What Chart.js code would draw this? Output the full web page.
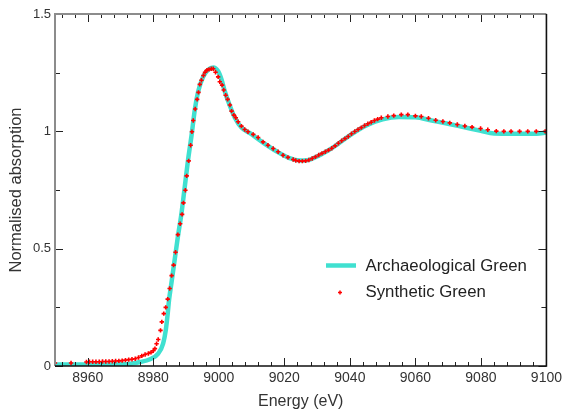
<!DOCTYPE html>
<html><head><meta charset="utf-8">
<script src="https://cdn.jsdelivr.net/npm/chart.js@4.4.1/dist/chart.umd.min.js"></script>
<style>html,body{margin:0;padding:0;background:#fff;}canvas{display:block;}</style>
</head><body>
<canvas id="c" width="566" height="416"></canvas>
<script>
const seriesNames = ['Archaeological Green', 'Synthetic Green'];
const xTickLabels = [8960, 8980, 9000, 9020, 9040, 9060, 9080, 9100];
const yTickLabels = [0, 0.5, 1, 1.5];

const archEnergy = [8950, 8955, 8960, 8965, 8970, 8973, 8976, 8979, 8981.5, 8983, 8983.8, 8984.4, 8984.8, 8985.5, 8986.5, 8987.5, 8988.6, 8989.6, 8990.6, 8991.7, 8992.7, 8993.7, 8995.2, 8996.7, 8998.3, 8999.8, 9000.8, 9001.8, 9003.4, 9004.9, 9006.9, 9009.5, 9013.5, 9017.6, 9021.6, 9024.7, 9027, 9030, 9035, 9040, 9045, 9050, 9055, 9060, 9065, 9070, 9075, 9080, 9084, 9090, 9097, 9100];
const archAbs = [0.006, 0.006, 0.006, 0.006, 0.007, 0.010, 0.017, 0.029, 0.053, 0.095, 0.152, 0.223, 0.28, 0.35, 0.45, 0.55, 0.65, 0.763, 0.877, 0.985, 1.095, 1.17, 1.232, 1.262, 1.272, 1.256, 1.222, 1.172, 1.108, 1.058, 1.016, 0.992, 0.952, 0.915, 0.886, 0.876, 0.877, 0.893, 0.933, 0.983, 1.025, 1.051, 1.061, 1.060, 1.046, 1.032, 1.017, 1.002, 0.991, 0.990, 0.990, 0.995];

const synthEnergy = [8950.0, 8954.9, 8959.6, 8960.5, 8961.5, 8962.5, 8963.5, 8964.5, 8965.5, 8966.5, 8967.5, 8968.5, 8969.5, 8970.5, 8971.5, 8972.5, 8973.5, 8974.5, 8975.5, 8976.5, 8977.5, 8978.5, 8979.3, 8980.0, 8980.5, 8981.0, 8981.5, 8982.2, 8982.6, 8983.2, 8983.8, 8984.4, 8985.0, 8985.6, 8986.2, 8986.8, 8987.5, 8988.2, 8988.8, 8989.2, 8989.8, 8990.2, 8990.8, 8991.4, 8991.8, 8992.2, 8992.8, 8993.4, 8993.8, 8994.2, 8994.7, 8995.3, 8995.8, 8996.4, 8997.0, 8997.7, 8998.3, 8999.0, 8999.8, 9000.3, 9001.0, 9001.5, 9002.1, 9002.7, 9003.4, 9003.9, 9004.6, 9005.2, 9005.9, 9006.9, 9007.9, 9008.9, 9010.5, 9012.0, 9013.5, 9015.0, 9016.6, 9018.1, 9019.6, 9021.1, 9022.7, 9023.5, 9024.5, 9025.5, 9026.5, 9027.5, 9028.5, 9029.5, 9030.5, 9031.5, 9032.5, 9033.5, 9034.5, 9035.5, 9036.5, 9037.5, 9038.5, 9039.5, 9040.5, 9041.5, 9042.5, 9043.5, 9044.5, 9045.5, 9046.5, 9047.5, 9048.5, 9049.6, 9051.6, 9053.4, 9055.7, 9057.7, 9060.0, 9061.8, 9064.0, 9066.2, 9068.4, 9070.5, 9072.8, 9075.1, 9077.3, 9079.9, 9082.1, 9084.7, 9087.0, 9089.2, 9091.8, 9094.3, 9096.9, 9099.6];
const synthAbs = [0.013, 0.013, 0.017, 0.018, 0.018, 0.018, 0.018, 0.019, 0.019, 0.019, 0.020, 0.021, 0.022, 0.023, 0.025, 0.027, 0.029, 0.031, 0.036, 0.043, 0.049, 0.053, 0.058, 0.065, 0.074, 0.095, 0.113, 0.152, 0.188, 0.223, 0.250, 0.285, 0.330, 0.385, 0.430, 0.485, 0.560, 0.606, 0.646, 0.695, 0.749, 0.810, 0.874, 0.941, 0.998, 1.046, 1.095, 1.136, 1.166, 1.200, 1.218, 1.238, 1.252, 1.261, 1.264, 1.267, 1.267, 1.252, 1.232, 1.211, 1.197, 1.176, 1.154, 1.136, 1.112, 1.086, 1.069, 1.058, 1.041, 1.022, 1.008, 0.998, 0.987, 0.974, 0.955, 0.941, 0.927, 0.913, 0.898, 0.889, 0.880, 0.876, 0.873, 0.873, 0.874, 0.878, 0.884, 0.891, 0.899, 0.906, 0.913, 0.920, 0.928, 0.938, 0.949, 0.960, 0.969, 0.978, 0.990, 0.999, 1.008, 1.016, 1.025, 1.032, 1.039, 1.046, 1.052, 1.058, 1.063, 1.067, 1.071, 1.071, 1.066, 1.063, 1.056, 1.047, 1.042, 1.036, 1.029, 1.023, 1.018, 1.012, 1.007, 1.001, 1.000, 1.000, 1.000, 1.000, 1.000, 1.000];

const FONT = '"Liberation Sans", Arial, Helvetica, sans-serif';
const CYAN = '#40e0d0';
const RED = '#ff0000';

const archData = archEnergy.map((e, i) => ({x: e, y: archAbs[i]}));
const synthData = synthEnergy.map((e, i) => ({x: e, y: synthAbs[i]}));

const framePlugin = {
  id: 'frame',
  afterDatasetsDraw(chart) {
    const {ctx, chartArea: a, scales: {x, y}} = chart;
    ctx.save();
    ctx.strokeStyle = '#222';
    ctx.lineWidth = 1;
    ctx.beginPath();
    for (let v = 8952; v <= 9100; v += 4) {
      const px = Math.round(x.getPixelForValue(v)) + 0.5;
      const major = (v - 8960) % 20 === 0;
      const len = major ? 8 : 4;
      ctx.moveTo(px, a.bottom); ctx.lineTo(px, a.bottom - len);
      ctx.moveTo(px, a.top); ctx.lineTo(px, a.top + len);
    }
    for (let k = 0; k <= 6; k++) {
      const v = k * 0.25;
      const py = Math.round(y.getPixelForValue(v)) + 0.5;
      const len = (k % 2 === 0) ? 8 : 5;
      ctx.moveTo(a.left, py); ctx.lineTo(a.left + len, py);
      ctx.moveTo(a.right, py); ctx.lineTo(a.right - len, py);
    }
    ctx.stroke();
    ctx.lineWidth = 2;
    ctx.strokeStyle = '#8c8c8c';
    ctx.beginPath();
    ctx.moveTo(a.left, a.bottom); ctx.lineTo(a.left, a.top); ctx.lineTo(a.right, a.top);
    ctx.stroke();
    ctx.lineWidth = 1.6;
    ctx.strokeStyle = '#111';
    ctx.beginPath();
    ctx.moveTo(a.right, a.top); ctx.lineTo(a.right, a.bottom); ctx.lineTo(a.left, a.bottom);
    ctx.stroke();
    ctx.restore();
  },
  afterDraw(chart) {
    const ctx = chart.ctx;
    const ds = chart.data.datasets;
    ctx.save();
    ctx.font = '16.8px ' + FONT;
    ctx.fillStyle = '#222';
    ctx.textBaseline = 'alphabetic';
    ctx.textAlign = 'left';
    ctx.strokeStyle = ds[0].borderColor;
    ctx.lineWidth = ds[0].borderWidth;
    ctx.beginPath(); ctx.moveTo(326, 265.5); ctx.lineTo(356, 265.5); ctx.stroke();
    ctx.fillText(ds[0].label, 365.5, 271);
    ctx.strokeStyle = ds[1].pointBorderColor;
    ctx.lineWidth = 1.5;
    ctx.beginPath();
    ctx.moveTo(338, 292.5); ctx.lineTo(342, 292.5);
    ctx.moveTo(340, 290.5); ctx.lineTo(340, 294.5);
    ctx.stroke();
    ctx.fillText(ds[1].label, 365.5, 296.5);
    ctx.restore();
  }
};

new Chart(document.getElementById('c'), {
  type: 'scatter',
  data: {
    datasets: [
      {
        label: seriesNames[0], data: archData, showLine: true,
        borderColor: CYAN, backgroundColor: CYAN, borderWidth: 4.5,
        pointRadius: 0, cubicInterpolationMode: 'monotone', order: 2
      },
      {
        label: seriesNames[1], data: synthData, showLine: false,
        pointStyle: 'cross', pointRadius: 2.2, pointBorderWidth: 1.6,
        pointBorderColor: RED, pointBackgroundColor: RED, order: 1
      }
    ]
  },
  options: {
    responsive: false, animation: false, devicePixelRatio: 1,
    layout: {padding: {left: 0, right: 19, top: 14, bottom: 0}},
    plugins: {legend: {display: false}, tooltip: {enabled: false}},
    scales: {
      x: {
        type: 'linear', min: 8950, max: 9100,
        afterFit(s) { s.height = 50; },
        afterBuildTicks(s) { s.ticks = xTickLabels.map(v => ({value: v})); },
        grid: {display: false, drawTicks: false},
        border: {display: false},
        ticks: {padding: 4, color: '#333', font: {family: FONT, size: 14}, maxRotation: 0, autoSkip: false,
                callback: v => String(v)},
        title: {display: true, text: 'Energy (eV)', color: '#333', font: {family: FONT, size: 16}, padding: {top: 0, bottom: 5}}
      },
      y: {
        type: 'linear', min: 0, max: 1.5,
        afterFit(s) { s.width = 55; },
        afterBuildTicks(s) { s.ticks = yTickLabels.map(v => ({value: v})); },
        grid: {display: false, drawTicks: false},
        border: {display: false},
        ticks: {padding: 4, color: '#333', font: {family: FONT, size: 13}, callback: v => String(v)},
        title: {display: true, text: 'Normalised absorption', color: '#333', font: {family: FONT, size: 16.5}, padding: {top: 7, bottom: 0}}
      }
    }
  },
  plugins: [framePlugin]
});
</script>
</body></html>
